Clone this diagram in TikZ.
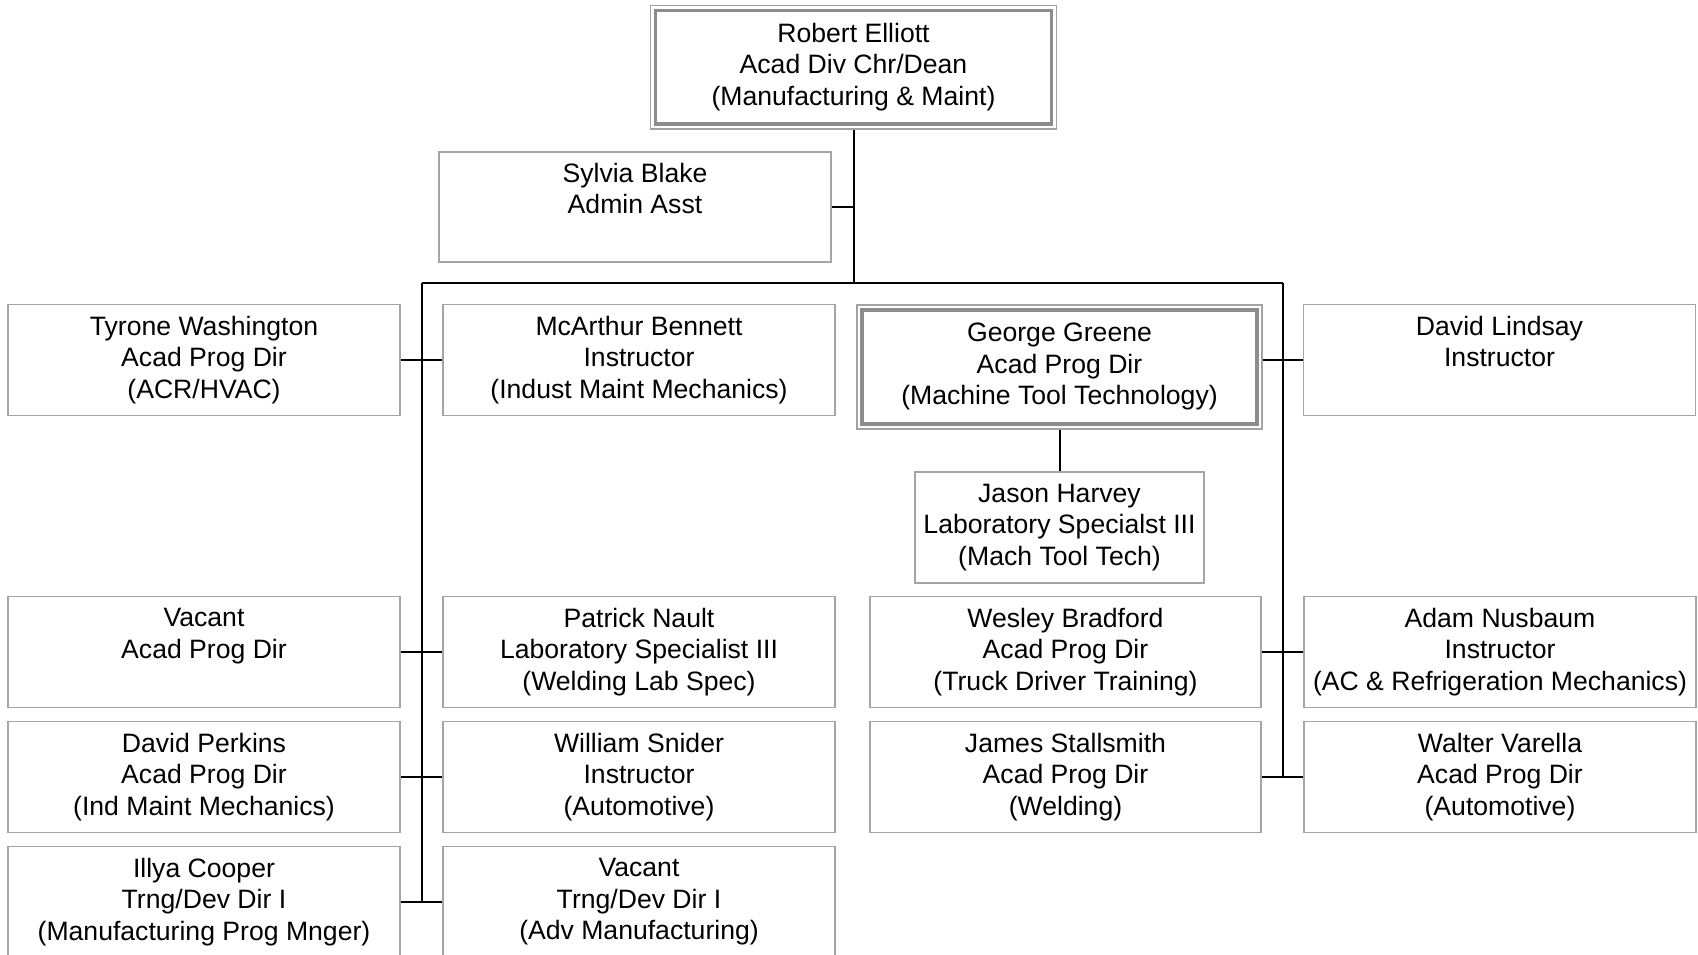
\documentclass[tikz,border=0pt]{standalone}
\usepackage{fontspec}
\setmainfont{Liberation Sans}
\usetikzlibrary{calc}
\definecolor{boxgray}{RGB}{165,165,165}
\definecolor{framegray}{RGB}{140,140,140}
\tikzset{
  pbox/.style={rectangle, draw=boxgray, line width=1.5pt, fill=white,
    minimum width=392pt, minimum height=111pt, inner sep=0pt,
    align=center, font=\fontsize{26.6}{31.5}\selectfont,
    execute at begin node={\rule{0pt}{26pt}},
    execute at end node={\rule[-6pt]{0pt}{6pt}}},
  headbox/.style={pbox, draw=framegray!80, line width=1.2pt,
    path picture={\draw[framegray, line width=3.6pt]
      ([shift={(5pt,-5pt)}]path picture bounding box.north west) rectangle
      ([shift={(-5pt,5pt)}]path picture bounding box.south east);}},
  link/.style={draw=black, line width=2pt}
}
\begin{document}
\begin{tikzpicture}[x=1pt,y=-1pt]
\useasboundingbox (0,0) rectangle (1698,954);
% head
\node[headbox, minimum width=406pt, minimum height=123.5pt] (robert) at (853.5,67.3)
  {Robert Elliott\\Acad Div Chr/Dean\\(Manufacturing \& Maint)};
\node[pbox, minimum height=110pt] (sylvia) at (635,207) {Sylvia Blake\\Admin Asst\\\mbox{}};
% row 1
\node[pbox] (tyrone) at (204,360) {Tyrone Washington\\Acad Prog Dir\\(ACR/HVAC)};
\node[pbox] (mcarthur) at (639,360) {McArthur Bennett\\Instructor\\(Indust Maint Mechanics)};
\node[headbox, minimum width=405pt, minimum height=124pt] (george) at (1059.5,367)
  {George Greene\\Acad Prog Dir\\(Machine Tool Technology)};
\node[pbox] (lindsay) at (1499.5,360) {David Lindsay\\Instructor\\\mbox{}};
\node[pbox, minimum width=289pt] (jason) at (1059.5,527.5)
  {Jason Harvey\\Laboratory Specialst III\\(Mach Tool Tech)};
% row 2
\node[pbox] (vacant1) at (204,652) {Vacant\\Acad Prog Dir\\\mbox{}};
\node[pbox] (patrick) at (639,652) {Patrick Nault\\Laboratory Specialist III\\(Welding Lab Spec)};
\node[pbox, minimum width=391pt] (wesley) at (1065.5,652) {Wesley Bradford\\Acad Prog Dir\\(Truck Driver Training)};
\node[pbox] (adam) at (1500,652) {Adam Nusbaum\\Instructor\\(AC \& Refrigeration Mechanics)};
% row 3
\node[pbox] (perkins) at (204,777) {David Perkins\\Acad Prog Dir\\(Ind Maint Mechanics)};
\node[pbox] (snider) at (639,777) {William Snider\\Instructor\\(Automotive)};
\node[pbox, minimum width=391pt] (stallsmith) at (1065.5,777) {James Stallsmith\\Acad Prog Dir\\(Welding)};
\node[pbox] (varella) at (1500,777) {Walter Varella\\Acad Prog Dir\\(Automotive)};
% row 4
\node[pbox] (cooper) at (204,902) {Illya Cooper\\Trng/Dev Dir I\\(Manufacturing Prog Mnger)};
\node[pbox] (vacant2) at (639,902) {Vacant\\Trng/Dev Dir I\\(Adv Manufacturing)};
% connectors
\coordinate (bar) at (853.5,283);
\coordinate (barL) at (422,283);
\coordinate (barR) at (1283,283);
\draw[link] (robert.south) -- (bar);
\draw[link] (sylvia.east) -- (sylvia.east -| robert.south);
\draw[link] (barL) -- (barR);
\draw[link] (barL) -- (barL |- cooper.east);
\draw[link] (barR) -- (barR |- varella.west);
\draw[link] (tyrone.east) -- (mcarthur.west);
\draw[link] (vacant1.east) -- (patrick.west);
\draw[link] (perkins.east) -- (snider.west);
\draw[link] (cooper.east) -- (vacant2.west);
\draw[link] (lindsay.west -| george.east) -- (lindsay.west);
\draw[link] (wesley.east) -- (adam.west);
\draw[link] (stallsmith.east) -- (varella.west);
\draw[link] (george.south) -- (jason.north);
\end{tikzpicture}
\end{document}
